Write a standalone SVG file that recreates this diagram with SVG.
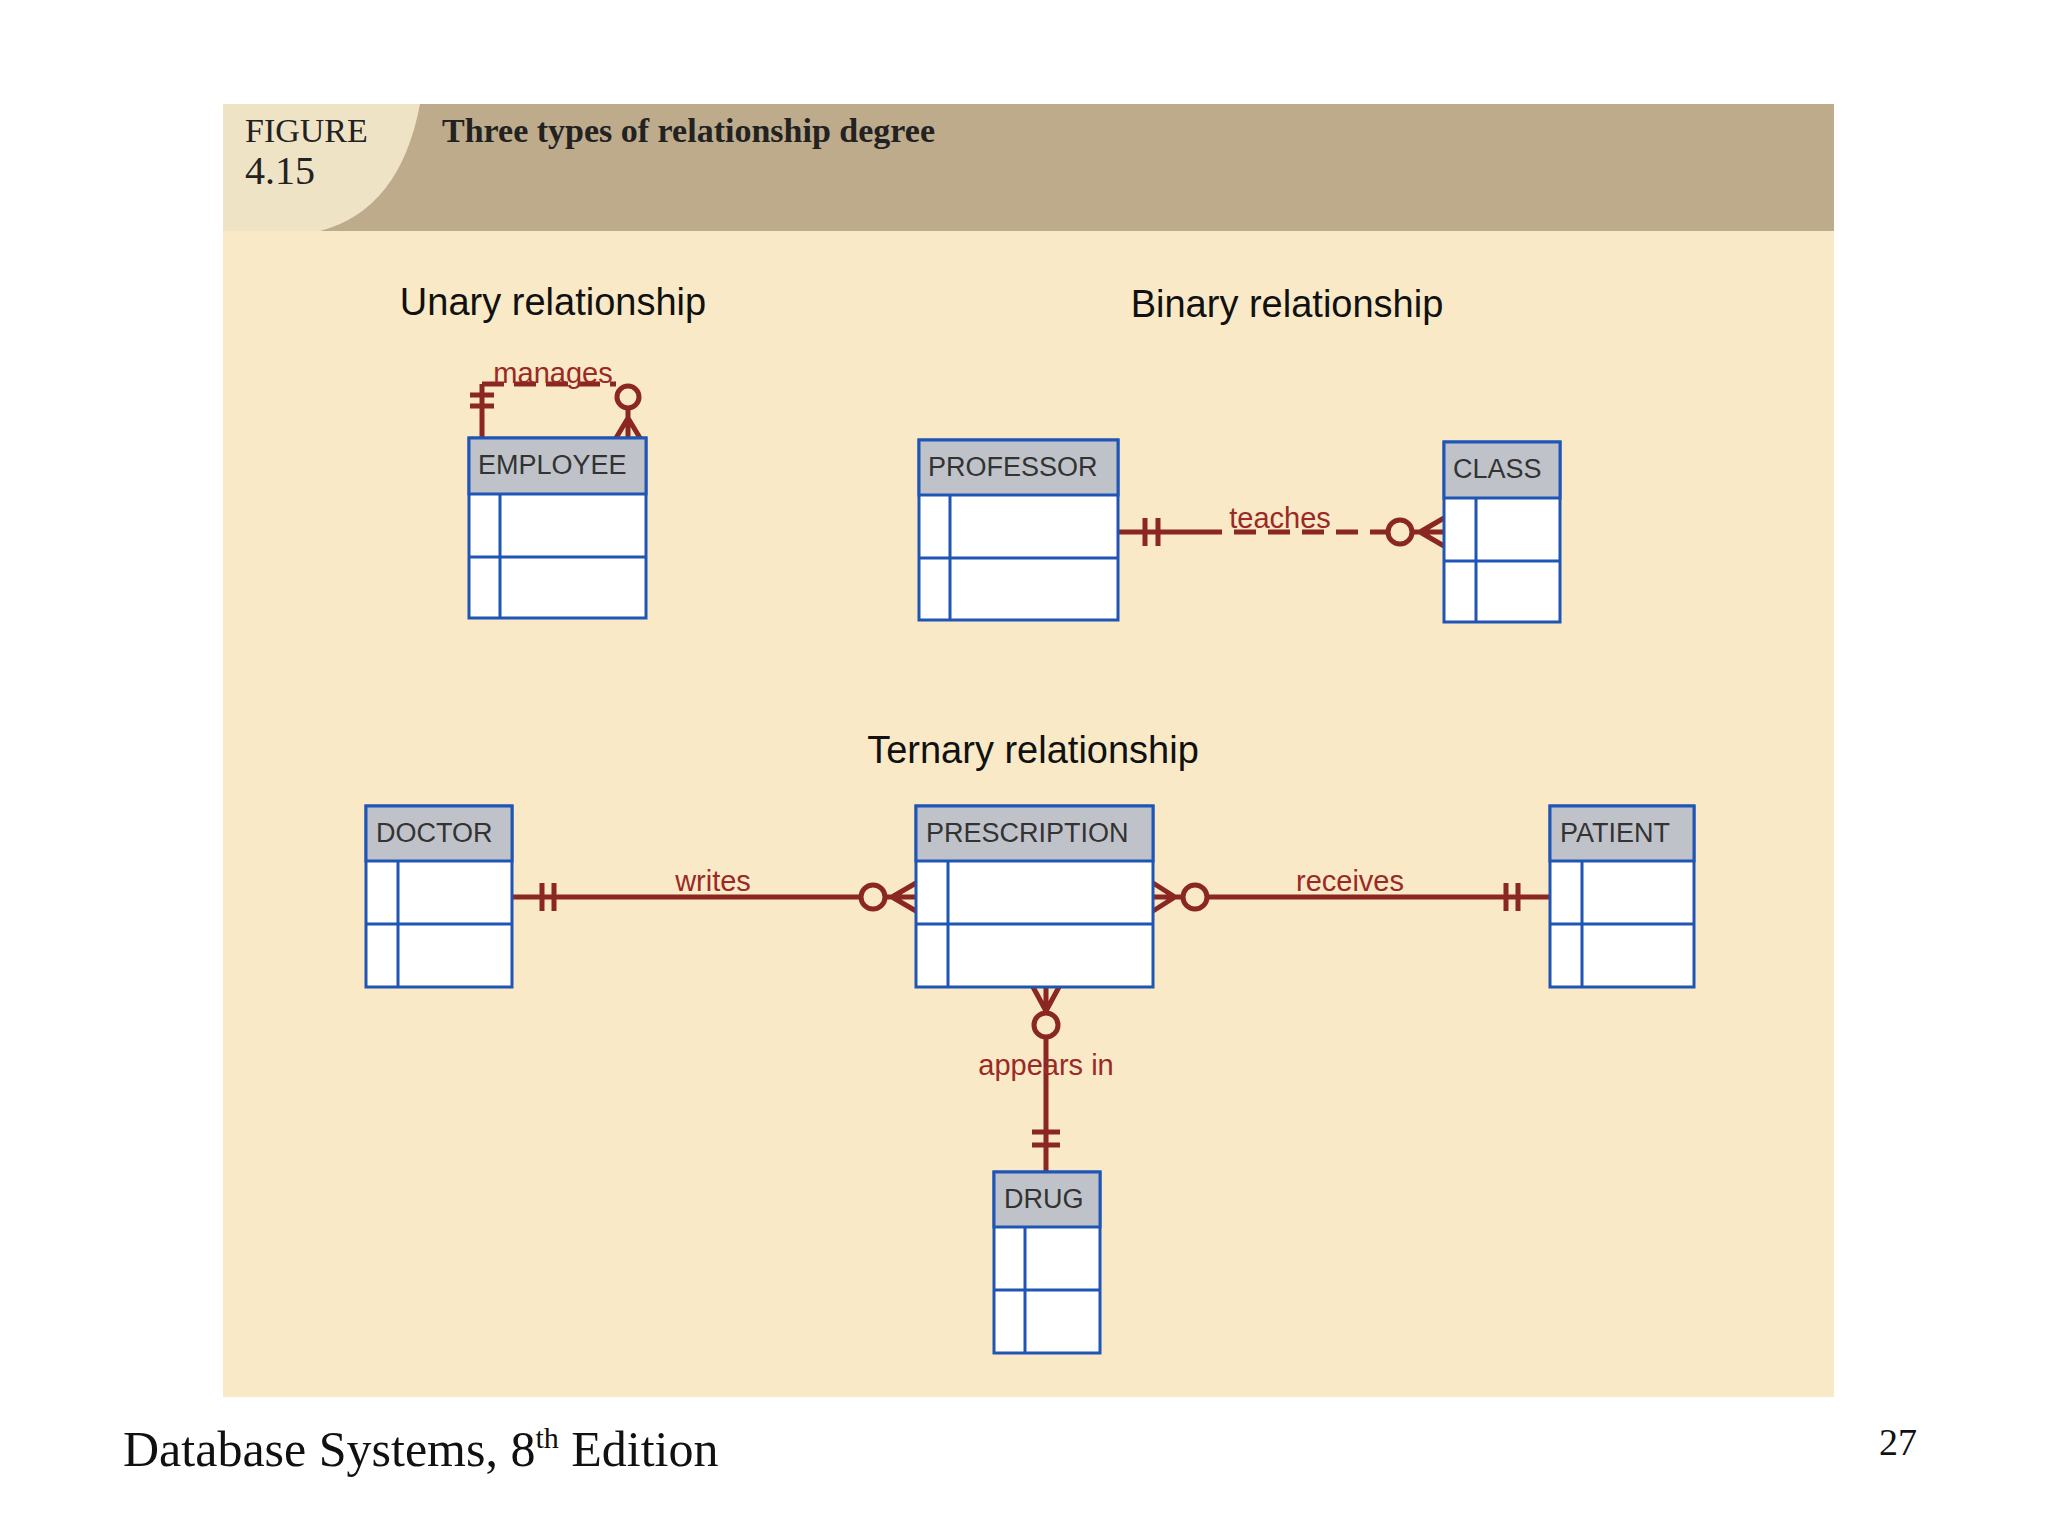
<svg xmlns="http://www.w3.org/2000/svg" width="2048" height="1536" viewBox="0 0 2048 1536">
<style>
.hdr{fill:#bfc3c9;stroke:#1f55b5;stroke-width:3}
.box{fill:#fff;stroke:#1f55b5;stroke-width:3}
.ln{stroke:#1f55b5;stroke-width:3}
.nm{font-family:"Liberation Sans",Arial,sans-serif;font-size:27px;fill:#333}
.rel{stroke:#8b2722;stroke-width:5;fill:none}
.lbl{font-family:"Liberation Sans",Arial,sans-serif;font-size:29px;fill:#9a2a26;text-anchor:middle}
.ttl{font-family:"Liberation Sans",Arial,sans-serif;font-size:38px;fill:#111;text-anchor:middle}
</style>
<rect width="2048" height="1536" fill="#fff"/>
<rect x="223" y="104" width="1611" height="1293" fill="#f9e9c6"/>
<rect x="223" y="104" width="1611" height="127" fill="#bdab8b"/>
<path d="M223 104 H420 Q400 210 320 231 H223 Z" fill="#efe3c6"/>
<text x="245" y="142" font-family="Liberation Serif,serif" font-size="34" fill="#222">FIGURE</text>
<text x="245" y="184" font-family="Liberation Serif,serif" font-size="40" fill="#222">4.15</text>
<text x="442" y="142" font-family="Liberation Serif,serif" font-size="34" font-weight="bold" fill="#222">Three types of relationship degree</text>
<text class="ttl" x="553" y="315">Unary relationship</text>
<text class="ttl" x="1287" y="317">Binary relationship</text>
<text class="ttl" x="1033" y="763">Ternary relationship</text>

<g id="connectors">
<path class="rel" d="M482 438 V384"/>
<path class="rel" d="M482 384 H616" stroke-dasharray="22 10"/>
<path class="rel" d="M470 395 H494 M470 406 H494"/>
<circle class="rel" cx="628" cy="397" r="11"/>
<path class="rel" d="M628 408 V438 M628 418 L616 438 M628 418 L640 438"/>
<text class="lbl" x="553" y="383">manages</text>

<path class="rel" d="M1118 532 H1200"/>
<path class="rel" d="M1145 518 V546 M1158 518 V546"/>
<path class="rel" d="M1200 532 H1387" stroke-dasharray="22 12"/>
<circle class="rel" cx="1400" cy="532" r="12"/>
<path class="rel" d="M1412 532 H1444 M1420 532 L1444 518 M1420 532 L1444 546"/>
<text class="lbl" x="1280" y="528">teaches</text>

<path class="rel" d="M512 897 H860"/>
<path class="rel" d="M542 883 V911 M554 883 V911"/>
<circle class="rel" cx="873" cy="897" r="12"/>
<path class="rel" d="M885 897 H916 M892 897 L916 883 M892 897 L916 911"/>
<text class="lbl" x="713" y="891">writes</text>

<path class="rel" d="M1153 897 H1183 M1153 883 L1175 897 M1153 911 L1175 897"/>
<circle class="rel" cx="1195" cy="897" r="12"/>
<path class="rel" d="M1207 897 H1550"/>
<path class="rel" d="M1506 883 V911 M1518 883 V911"/>
<text class="lbl" x="1350" y="891">receives</text>

<path class="rel" d="M1046 987 V1013 M1033 987 L1046 1011 M1059 987 L1046 1011"/>
<circle class="rel" cx="1046" cy="1025" r="12"/>
<path class="rel" d="M1046 1037 V1172"/>
<path class="rel" d="M1032 1132 H1060 M1032 1145 H1060"/>
<text class="lbl" x="1046" y="1075">appears in</text>
</g>

<g id="employee">
<rect class="box" x="469" y="438" width="177" height="180"/>
<rect class="hdr" x="469" y="438" width="177" height="56"/>
<path class="ln" d="M469 557 H646 M500 494 V618"/>
<text class="nm" x="478" y="474">EMPLOYEE</text>
</g>
<g id="professor">
<rect class="box" x="919" y="440" width="199" height="180"/>
<rect class="hdr" x="919" y="440" width="199" height="55"/>
<path class="ln" d="M919 558 H1118 M950 495 V620"/>
<text class="nm" x="928" y="476">PROFESSOR</text>
</g>
<g id="class">
<rect class="box" x="1444" y="442" width="116" height="180"/>
<rect class="hdr" x="1444" y="442" width="116" height="56"/>
<path class="ln" d="M1444 561 H1560 M1476 498 V622"/>
<text class="nm" x="1453" y="478">CLASS</text>
</g>
<g id="doctor">
<rect class="box" x="366" y="806" width="146" height="181"/>
<rect class="hdr" x="366" y="806" width="146" height="55"/>
<path class="ln" d="M366 924 H512 M398 861 V987"/>
<text class="nm" x="376" y="842">DOCTOR</text>
</g>
<g id="prescription">
<rect class="box" x="916" y="806" width="237" height="181"/>
<rect class="hdr" x="916" y="806" width="237" height="55"/>
<path class="ln" d="M916 924 H1153 M948 861 V987"/>
<text class="nm" x="926" y="842">PRESCRIPTION</text>
</g>
<g id="patient">
<rect class="box" x="1550" y="806" width="144" height="181"/>
<rect class="hdr" x="1550" y="806" width="144" height="55"/>
<path class="ln" d="M1550 924 H1694 M1582 861 V987"/>
<text class="nm" x="1560" y="842">PATIENT</text>
</g>
<g id="drug">
<rect class="box" x="994" y="1172" width="106" height="181"/>
<rect class="hdr" x="994" y="1172" width="106" height="55"/>
<path class="ln" d="M994 1290 H1100 M1025 1227 V1353"/>
<text class="nm" x="1004" y="1208">DRUG</text>
</g>

<text x="123" y="1466" font-family="Liberation Serif,serif" font-size="50" fill="#111">Database Systems, 8<tspan font-size="30" dy="-18">th</tspan><tspan dy="18"> Edition</tspan></text>
<text x="1917" y="1455" font-family="Liberation Serif,serif" font-size="38" fill="#111" text-anchor="end">27</text>
</svg>
